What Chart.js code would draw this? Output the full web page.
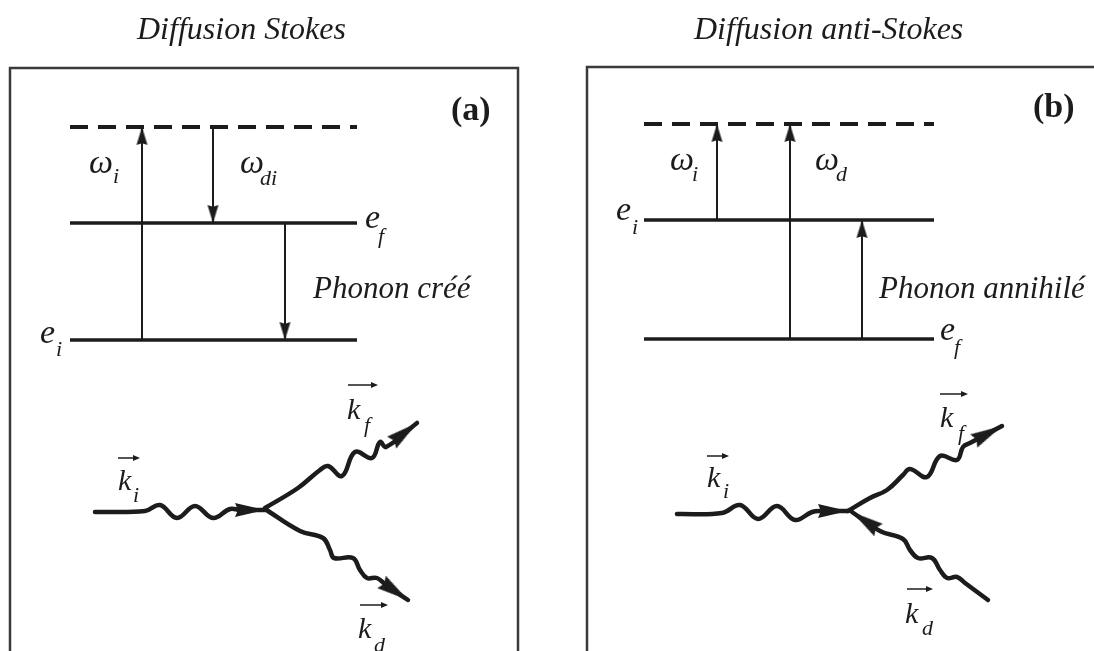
<!DOCTYPE html>
<html>
<head>
<meta charset="utf-8">
<script src="https://cdn.jsdelivr.net/npm/chart.js@4.4.1/dist/chart.umd.min.js"></script>
<style>
  body { margin: 0; background: #fff; }
  #wrap { width: 1094px; height: 651px; }
</style>
</head>
<body>
<div id="wrap"><canvas id="chart" width="1094" height="651"></canvas></div>
<script>
const ink = '#1c1c1c';

// ---- panel (a) : Stokes ----
const boxA = [[10, 656], [10, 68], [518, 68], [518, 656]];
const levelSpanA = [70, 357];
const levelsA = [127, 223, 340];                 // virtual level, e_f, e_i
const transA = [[142, 340, 127], [213, 127, 223], [285, 223, 340]];   // x, from y, to y
const kiA = [[95, 512], [145, 511], [160, 505], [177, 518], [195, 506], [213, 518], [230, 509], [240, 510], [265, 510]];
const kfA = [[265, 508], [298, 488], [320, 470], [328, 466], [342, 476], [355, 452], [372, 458], [380, 442], [386, 447], [417, 423]];
const kdA = [[265, 509], [300, 531], [323, 538], [330, 550], [334, 558], [353, 558], [360, 570], [367, 578], [377, 578], [386, 585], [408, 600]];

// ---- panel (b) : anti-Stokes ----
const boxB = [[587, 656], [587, 67], [1100, 67]];
const levelSpanB = [644, 934];
const levelsB = [124, 220, 339];                 // virtual level, e_i, e_f
const transB = [[717, 220, 124], [790, 339, 124], [862, 339, 220]];
const kiB = [[677, 514], [722, 513], [740, 505], [758, 519], [777, 506], [795, 520], [812, 512], [822, 511], [848, 511]];
const kfB = [[848, 511], [870, 498], [887, 490], [903, 475], [910, 469], [927, 477], [940, 456], [957, 460], [963, 447], [970, 443], [1002, 426]];
const kdB = [[988, 600], [965, 583], [957, 577], [947, 578], [940, 570], [932, 558], [918, 558], [910, 550], [903, 539], [880, 531], [852, 512]];

// ---- text ----
const fTitle = 'italic 32px "Liberation Serif"';
const fTag = 'bold 34px "Liberation Serif"';
const fSym = 'italic 34px "Liberation Serif"';
const fSub = 'italic 22px "Liberation Serif"';
const fK = 'italic 30px "Liberation Serif"';
const fPhon = 'italic 31px "Liberation Serif"';

const labels = [
  ['Diffusion Stokes', 137, 39, fTitle],
  ['(a)', 451, 120, fTag],
  ['ω', 89, 173, fSym], ['i', 113, 183, fSub],
  ['ω', 240, 173, fSym], ['di', 260, 185, fSub],
  ['e', 365, 228, fSym], ['f', 378, 243, fSub],
  ['e', 40, 343, fSym], ['i', 56, 356, fSub],
  ['Phonon créé', 313, 298, fPhon],
  ['k', 118, 490, fK], ['i', 133, 502, fSub],
  ['k', 347, 419, fK], ['f', 364, 432, fSub],
  ['k', 358, 638, fK], ['d', 374, 652, fSub],

  ['Diffusion anti-Stokes', 694, 39, fTitle],
  ['(b)', 1033, 117, fTag],
  ['ω', 670, 170, fSym], ['i', 692, 181, fSub],
  ['ω', 815, 170, fSym], ['d', 836, 181, fSub],
  ['e', 616, 220, fSym], ['i', 632, 234, fSub],
  ['e', 940, 340, fSym], ['f', 954, 354, fSub],
  ['Phonon annihilé', 879, 298, fPhon],
  ['k', 707, 487, fK], ['i', 723, 498, fSub],
  ['k', 940, 427, fK], ['f', 958, 440, fSub],
  ['k', 905, 623, fK], ['d', 922, 635, fSub]
];
// little vector arrows over the k's : x1, x2, y
const vecBars = [[118, 140, 458], [348, 378, 385], [360, 388, 605], [707, 729, 456], [940, 968, 394], [907, 933, 589]];

// arrowhead picture with its tip at the centre, pointing right
function arrowHead(len, wid) {
  const c = document.createElement('canvas');
  c.width = len * 2;
  c.height = wid + 2;
  const g = c.getContext('2d');
  g.fillStyle = ink;
  g.beginPath();
  g.moveTo(len, c.height / 2);
  g.lineTo(0, 1);
  g.lineTo(len * 0.1, c.height / 2);
  g.lineTo(0, c.height - 1);
  g.closePath();
  g.fill();
  return c;
}

const toPts = arr => arr.map(([x, y]) => ({ x, y }));
const datasets = [];

function addLine(pts, opts) {
  datasets.push(Object.assign({
    data: toPts(pts), showLine: true, pointRadius: 0, borderColor: ink,
    borderWidth: 2, tension: 0, fill: false, order: 1
  }, opts));
}

function addHead(path, len, wid) {
  const n = path.length;
  const [x1, y1] = path[n - 2], [x2, y2] = path[n - 1];
  const rot = Math.atan2(y2 - y1, x2 - x1) * 180 / Math.PI;
  datasets.push({
    data: [{ x: x2, y: y2 }], showLine: false, pointStyle: arrowHead(len, wid),
    pointRotation: rot, pointRadius: 6, order: 0
  });
}

function addPanel(box, span, levels, trans, ki, kf, kd) {
  addLine(box, { borderColor: '#3a3a3a', borderWidth: 2.5 });
  levels.forEach((y, i) => {
    addLine([[span[0], y], [span[1], y]], i === 0 ? { borderWidth: 4, borderDash: [18, 10] } : { borderWidth: 3.5 });
  });
  trans.forEach(([x, y0, y1]) => {
    const p = [[x, y0], [x, y1]];
    addLine(p, { borderWidth: 2 });
    addHead(p, 18, 11);
  });
  const wave = { borderWidth: 4.5, tension: 0.4, borderJoinStyle: 'round', borderCapStyle: 'round' };
  addLine(ki, wave); addHead(ki, 30, 14);
  addLine(kf, wave); addHead(kf, 32, 15);
  addLine(kd, wave); addHead(kd, 32, 15);
}

addPanel(boxA, levelSpanA, levelsA, transA, kiA, kfA, kdA);
addPanel(boxB, levelSpanB, levelsB, transB, kiB, kfB, kdB);

const labelPlugin = {
  id: 'labels',
  afterDatasetsDraw(chart) {
    const { ctx, scales: { x, y } } = chart;
    ctx.save();
    ctx.fillStyle = ink;
    ctx.strokeStyle = ink;
    ctx.textBaseline = 'alphabetic';
    labels.forEach(([t, lx, ly, f]) => {
      ctx.font = f;
      ctx.fillText(t, x.getPixelForValue(lx), y.getPixelForValue(ly));
    });
    ctx.lineWidth = 1.5;
    vecBars.forEach(([x1, x2, vy]) => {
      const a = x.getPixelForValue(x1), b = x.getPixelForValue(x2), py = y.getPixelForValue(vy);
      ctx.beginPath();
      ctx.moveTo(a, py); ctx.lineTo(b - 4, py);
      ctx.stroke();
      ctx.beginPath();
      ctx.moveTo(b, py); ctx.lineTo(b - 7, py - 3); ctx.lineTo(b - 7, py + 3);
      ctx.closePath(); ctx.fill();
    });
    ctx.restore();
  }
};

new Chart(document.getElementById('chart'), {
  type: 'scatter',
  data: { datasets: datasets },
  options: {
    responsive: false,
    animation: false,
    devicePixelRatio: 1,
    events: [],
    layout: { padding: 0, autoPadding: false },
    plugins: { legend: { display: false }, tooltip: { enabled: false } },
    scales: {
      x: { type: 'linear', min: 0, max: 1094, display: false },
      y: { type: 'linear', min: 0, max: 651, reverse: true, display: false }
    }
  },
  plugins: [labelPlugin]
});
</script>
</body>
</html>
